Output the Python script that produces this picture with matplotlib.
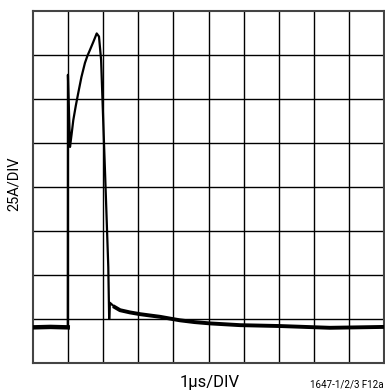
import matplotlib.pyplot as plt

t_div = [0.0, 0.5, 0.99, 0.995, 1.054, 1.10, 1.148, 1.22, 1.29, 1.38,
         1.48, 1.55, 1.62, 1.72, 1.815, 1.88, 1.94, 2.00, 2.08, 2.145,
         2.17, 2.19, 2.33, 2.48, 2.76, 3.05, 3.33, 3.62, 3.90, 4.19,
         4.6, 5.04, 5.9, 7.04, 8.46, 10.0]
i_div = [0.81, 0.82, 0.81, 6.55, 4.91, 5.20, 5.52, 5.85, 6.14, 6.50,
         6.82, 6.98, 7.11, 7.30, 7.49, 7.42, 6.89, 5.52, 3.70, 2.18,
         1.00, 1.37, 1.27, 1.20, 1.15, 1.11, 1.08, 1.05, 1.01, 0.97,
         0.93, 0.90, 0.86, 0.84, 0.80, 0.82]

x_label = "1\u03bcs/DIV"
y_label = "25A/DIV"
fig_id = "1647-1/2/3 F12a"

plt.rcParams['font.family'] = ['Roboto', 'DejaVu Sans']

fig = plt.figure(figsize=(3.85, 3.92), dpi=100)
ax = fig.add_axes([33 / 385, 1 - 363 / 392, 351 / 385, 352 / 392])

# scope graticule 10 x 8
for k in range(1, 10):
    ax.axvline(k, color='black', lw=1.0, zorder=1)
for k in range(1, 8):
    ax.axhline(k, color='black', lw=1.0, zorder=1)

ax.plot(t_div, i_div, color='black', lw=1.6, zorder=3)
# flat parts look thicker on the scope because of noise
ax.plot(t_div[:3], i_div[:3], color='black', lw=3.2, zorder=3)
ax.plot(t_div[22:], i_div[22:], color='black', lw=2.8, zorder=3)

ax.set_xlim(0, 10)
ax.set_ylim(0, 8)
ax.set_xticks([])
ax.set_yticks([])
for s in ax.spines.values():
    s.set_linewidth(1.5)
    s.set_color('#444444')

fig.text(14 / 385, 1 - 184 / 392, y_label, rotation=90, ha='center', va='center',
         fontsize=10.5)
fig.text(210 / 385, 1 - 382 / 392, x_label, ha='center', va='center',
         fontsize=12)
fig.text(384 / 385, 1 - 385 / 392, fig_id, ha='right', va='center', fontsize=7)

fig.savefig('out.png', dpi=100)
